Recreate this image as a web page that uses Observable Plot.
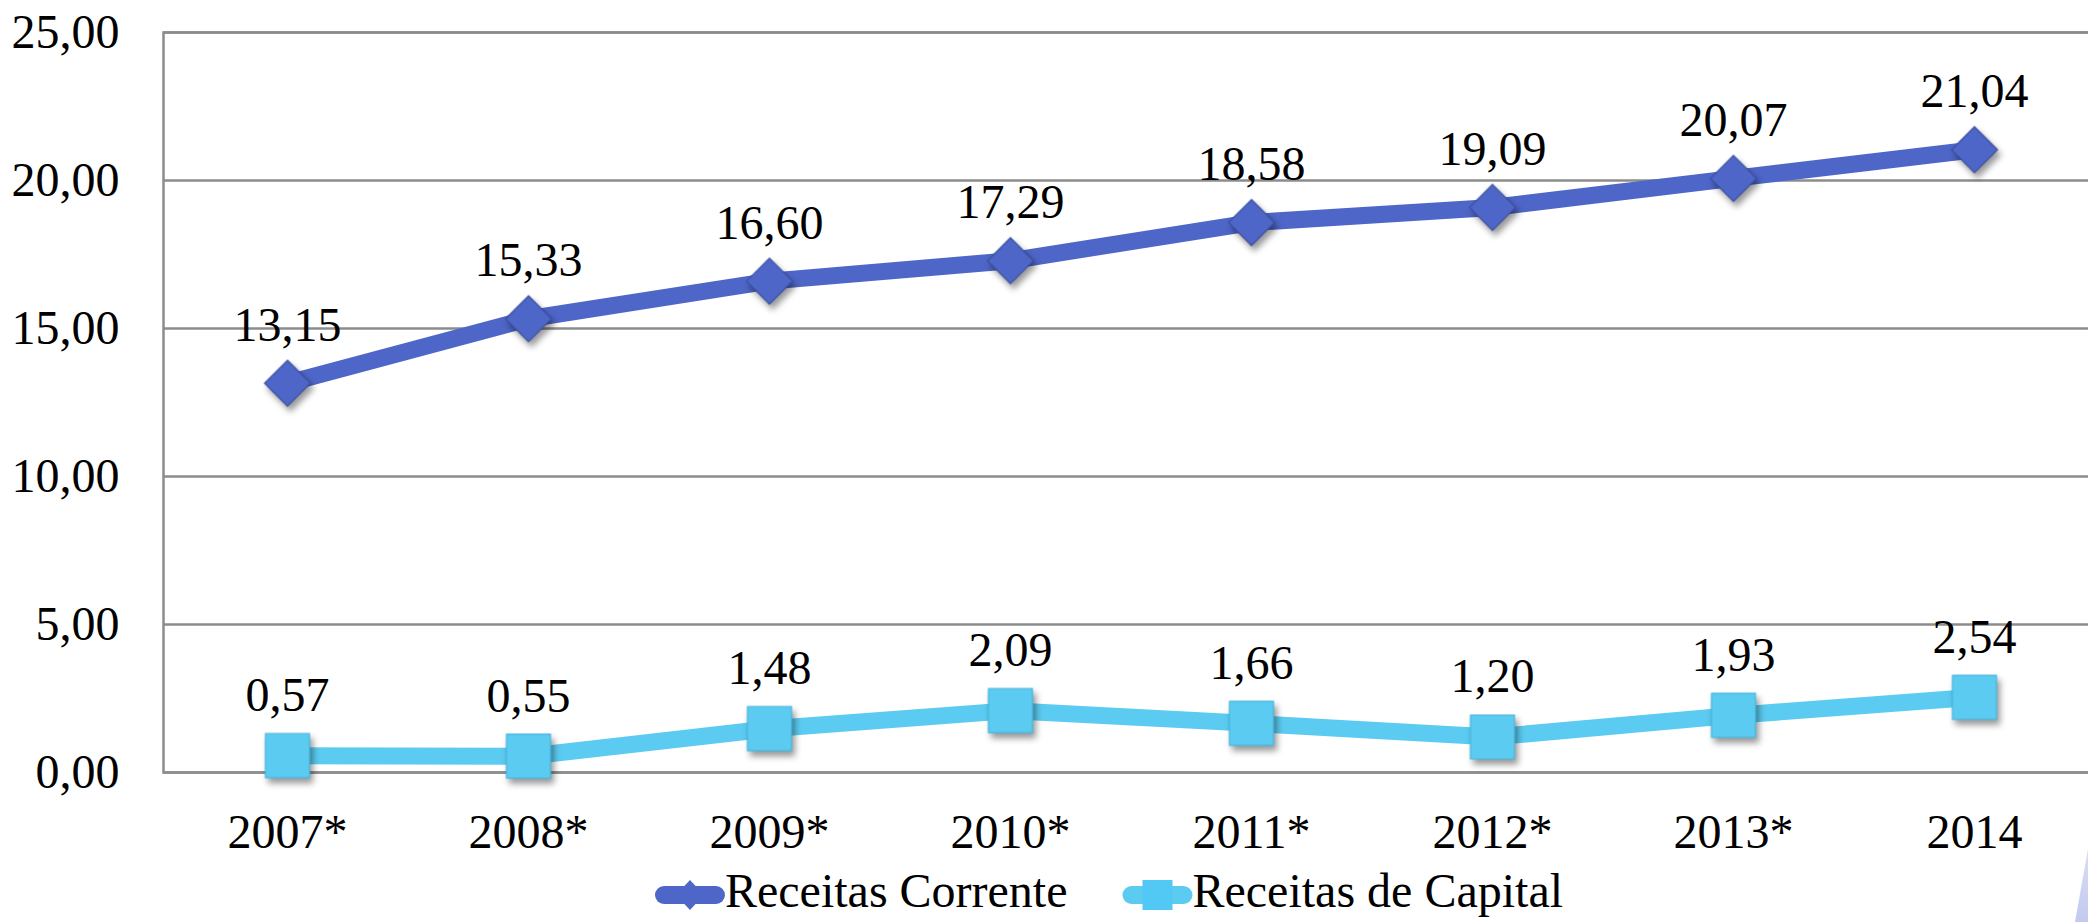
<!DOCTYPE html>
<html>
<head>
<meta charset="utf-8">
<script src="https://cdn.jsdelivr.net/npm/d3@7"></script>
<script src="https://cdn.jsdelivr.net/npm/@observablehq/plot@0.6"></script>
<style>
  html, body { margin: 0; padding: 0; background: #fff; overflow: hidden; }
  #chart { position: relative; width: 2088px; height: 922px; }
  #corner {
    position: absolute; left: 2075px; top: 849px; width: 13px; height: 73px;
    background: linear-gradient(180deg, #d9ddf5 0%, #c4caee 100%);
    clip-path: polygon(100% 0%, 100% 100%, 0% 100%);
  }
</style>
</head>
<body>
<div id="chart"></div>
<script>
// Receitas per year (values as labelled on the chart)
const years = ["2007*", "2008*", "2009*", "2010*", "2011*", "2012*", "2013*", "2014"];
const correntes = [13.15, 15.33, 16.60, 17.29, 18.58, 19.09, 20.07, 21.04];
const capital = [0.57, 0.55, 1.48, 2.09, 1.66, 1.20, 1.93, 2.54];
const yTicks = [0, 5, 10, 15, 20, 25];
const seriesNames = ["Receitas Corrente", "Receitas de Capital"];
const seriesColors = ["#4e66c8", "#5ccbf1"];
const markerStrokes = ["#3a4f9f", "#48b7de"];

const FONT = "Liberation Serif, Times New Roman, DejaVu Serif, serif";
const fmt = v => v.toFixed(2).replace(".", ",");

const rowsC = years.map((year, i) => ({year, value: correntes[i]}));
const rowsK = years.map((year, i) => ({year, value: capital[i]}));

// custom marker shapes (size is r²π as passed by Plot)
const diamond = {
  draw(ctx, size) {
    const r = Math.sqrt(size / Math.PI);
    ctx.moveTo(0, -r); ctx.lineTo(r, 0); ctx.lineTo(0, r); ctx.lineTo(-r, 0); ctx.closePath();
  }
};
const square = {
  draw(ctx, size) {
    const r = Math.sqrt(size / Math.PI);
    ctx.rect(-r, -r, 2 * r, 2 * r);
  }
};

const chart = Plot.plot({
  width: 2088,
  height: 864,
  marginLeft: 163,
  marginRight: -10,
  marginTop: 32,
  marginBottom: 92,
  style: {fontFamily: FONT, fontSize: "48px", color: "#000", background: "transparent"},
  x: {type: "point", domain: years, padding: 0.5, label: null},
  y: {domain: [0, 25], label: null},
  marks: [
    Plot.gridY(yTicks, {stroke: "#8c8c8c", strokeOpacity: 1, strokeWidth: 2.5}),
    Plot.frame({stroke: "#8c8c8c", strokeWidth: 2.5}),
    Plot.axisY(yTicks, {tickSize: 0, tickPadding: 44, tickFormat: fmt, fill: "#000", fontFamily: FONT}),
    Plot.axisX({tickSize: 0, tickPadding: 41, fill: "#000", fontFamily: FONT}),
    Plot.line(rowsC, {x: "year", y: "value", stroke: seriesColors[0], strokeWidth: 17}),
    Plot.line(rowsK, {x: "year", y: "value", stroke: seriesColors[1], strokeWidth: 17}),
    Plot.dot(rowsC, {x: "year", y: "value", symbol: diamond, r: 23, fill: seriesColors[0], stroke: markerStrokes[0], strokeWidth: 1.2}),
    Plot.dot(rowsK, {x: "year", y: "value", symbol: square, r: 22, fill: seriesColors[1], stroke: markerStrokes[1], strokeWidth: 1.2}),
    Plot.text(rowsC, {x: "year", y: "value", text: d => fmt(d.value), dy: -58, fill: "#000", fontFamily: FONT}),
    Plot.text(rowsK, {x: "year", y: "value", text: d => fmt(d.value), dy: -60, fill: "#000", fontFamily: FONT})
  ]
});

d3.select(chart).selectAll('g[aria-label="dot"]')
  .style("filter", "drop-shadow(3px 5px 3px rgba(0,0,0,0.4))");

const host = document.getElementById("chart");
host.appendChild(chart);

// legend below the plot: short rounded line with the series marker, then the name
const legend = d3.create("svg")
  .attr("width", 2088).attr("height", 58)
  .style("display", "block")
  .style("font-family", FONT).style("font-size", "48px");
host.appendChild(legend.node());

const items = legend.append("g");
let cursor = 0;
seriesNames.forEach((name, i) => {
  const g = items.append("g").attr("transform", `translate(${cursor},31)`);
  g.append("line").attr("x1", 9).attr("x2", 61).attr("y1", 0).attr("y2", 0)
    .attr("stroke", seriesColors[i]).attr("stroke-width", 18).attr("stroke-linecap", "round");
  if (i === 0) {
    g.append("path").attr("d", "M35,-15L49,0L35,15L21,0Z").attr("fill", seriesColors[i]);
  } else {
    g.append("rect").attr("x", 20).attr("y", -15).attr("width", 30).attr("height", 30).attr("fill", "#52c8f5");
  }
  const t = g.append("text").attr("x", 70).attr("dy", "0.26em").attr("fill", "#000").text(name);
  cursor += 70 + t.node().getComputedTextLength() + 55;
});
const total = cursor - 55;
items.attr("transform", `translate(${1109 - total / 2},0)`);

const corner = document.createElement("div");
corner.id = "corner";
host.appendChild(corner);
</script>
</body>
</html>
